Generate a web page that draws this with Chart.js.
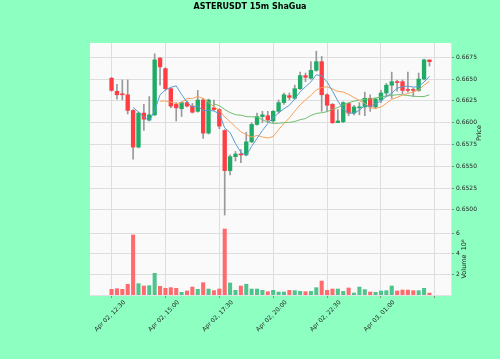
<!DOCTYPE html>
<html>
<head>
<meta charset="utf-8">
<script src="https://cdn.jsdelivr.net/npm/chart.js@4/dist/chart.umd.min.js"></script>
<style>
  html, body { margin: 0; padding: 0; background: #8dffc1; }
  #wrap { width: 500px; height: 359px; }
</style>
</head>
<body>
<div id="wrap"><canvas id="chart" width="500" height="359"></canvas></div>
<script>
// 15m candles, index 0 = Apr 02 12:30
const opens  = [0.6651, 0.6636, 0.66325, 0.6632, 0.6614, 0.6572, 0.6611, 0.6603, 0.6609, 0.6674,
                0.6662, 0.6639, 0.6621, 0.6616, 0.6623, 0.6619, 0.6613, 0.6626, 0.6588, 0.6617,
                0.6615, 0.6591, 0.6545, 0.6561, 0.6564, 0.6563, 0.6578, 0.6598, 0.6607, 0.6608,
                0.6602, 0.6613, 0.6623, 0.6631, 0.6628, 0.6639, 0.6654, 0.6651, 0.6660, 0.6670,
                0.6632, 0.6621, 0.6600, 0.6601, 0.6622, 0.6611, 0.6617, 0.6618, 0.6628, 0.6618,
                0.6626, 0.6634, 0.6643, 0.6647, 0.6647, 0.6638, 0.6638, 0.6637, 0.6650, 0.6672];
const highs  = [0.6652, 0.6644, 0.6649, 0.6649, 0.6615, 0.6612, 0.6621, 0.6630, 0.6679, 0.6675,
                0.6663, 0.6640, 0.6623, 0.6624, 0.6625, 0.6622, 0.6637, 0.6628, 0.6627, 0.6626,
                0.6616, 0.6592, 0.6563, 0.6567, 0.6569, 0.6589, 0.6600, 0.6611, 0.6613, 0.6613,
                0.6614, 0.6626, 0.6634, 0.6634, 0.6643, 0.6658, 0.6657, 0.6670, 0.6682, 0.6676,
                0.6633, 0.6622, 0.6615, 0.6624, 0.6623, 0.6620, 0.6623, 0.6635, 0.6632, 0.6628,
                0.6637, 0.6645, 0.6658, 0.6649, 0.6649, 0.6658, 0.6640, 0.6657, 0.6673, 0.6672];
const lows   = [0.6636, 0.6627, 0.6626, 0.6610, 0.6558, 0.6571, 0.6591, 0.6602, 0.6608, 0.6643,
                0.6637, 0.6617, 0.6602, 0.6607, 0.6618, 0.6611, 0.6612, 0.6582, 0.6587, 0.6614,
                0.6593, 0.6494, 0.6540, 0.6556, 0.6554, 0.6562, 0.6577, 0.6597, 0.6600, 0.6600,
                0.6600, 0.6611, 0.6621, 0.6626, 0.6627, 0.6638, 0.6647, 0.6650, 0.6659, 0.6613,
                0.6613, 0.6599, 0.6600, 0.6600, 0.6608, 0.6609, 0.6609, 0.6608, 0.6613, 0.6616,
                0.6623, 0.6630, 0.6628, 0.6636, 0.6633, 0.6635, 0.6630, 0.6636, 0.6649, 0.6665];
const closes = [0.6637, 0.6632, 0.6632, 0.6614, 0.6572, 0.6611, 0.6604, 0.6609, 0.6672, 0.6664,
                0.6639, 0.6619, 0.6617, 0.6623, 0.6619, 0.6612, 0.6626, 0.6588, 0.6626, 0.6615,
                0.6596, 0.6545, 0.6561, 0.6564, 0.6563, 0.6578, 0.6598, 0.6607, 0.6609, 0.6603,
                0.6613, 0.6623, 0.6632, 0.6629, 0.6639, 0.6654, 0.6652, 0.6660, 0.6670, 0.6632,
                0.6620, 0.6600, 0.6602, 0.6623, 0.6611, 0.6618, 0.6618, 0.6628, 0.6618, 0.6627,
                0.6634, 0.6643, 0.6647, 0.6646, 0.6637, 0.6637, 0.6637, 0.6650, 0.6672, 0.6670];
// volume in millions
const volumes = [0.55, 0.61, 0.55, 1.04, 5.81, 1.10, 0.87, 0.90, 2.10, 0.84,
                 0.65, 0.71, 0.65, 0.26, 0.39, 0.77, 0.55, 1.19, 0.58, 0.42,
                 0.58, 6.39, 1.16, 0.45, 0.87, 1.04, 0.58, 0.58, 0.45, 0.32,
                 0.45, 0.29, 0.29, 0.45, 0.42, 0.35, 0.32, 0.35, 0.71, 1.35,
                 0.45, 0.58, 0.58, 0.35, 0.68, 0.19, 0.77, 0.52, 0.29, 0.26,
                 0.39, 0.42, 0.87, 0.39, 0.48, 0.48, 0.42, 0.42, 0.65, 0.19];

const tickIndex  = [0, 10, 20, 30, 40, 50, 60];
const tickLabels = ['Apr 02, 12:30', 'Apr 02, 15:00', 'Apr 02, 17:30', 'Apr 02, 20:00',
                    'Apr 02, 22:30', 'Apr 03, 01:00', ''];
const priceTicks  = [0.6500, 0.6525, 0.6550, 0.6575, 0.6600, 0.6625, 0.6650, 0.6675];
const volumeTicks = [2, 4, 6];
const mavPeriods  = [5, 10, 20];
const mavColors   = ['#5b9bd5', '#f7a35c', '#70bf6e'];
const titleText   = 'ASTERUSDT 15m ShaGua';

const upColor = '#1fab66', downColor = '#ff3d43';
const volUp = '#4cc48c', volDown = '#ff6b6d';

const idx = opens.map((_, i) => i);
const isUp = idx.map(i => closes[i] >= opens[i]);

// simple moving average of closes, like mplfinance mav
function sma(period) {
    return idx.map(i => {
        if (i < period - 1) return { x: i, y: null };
        let s = 0;
        for (let k = i - period + 1; k <= i; k++) s += closes[k];
        return { x: i, y: s / period };
    });
}

// plot background, title and rotated axis labels
const panelPlugin = {
    id: 'panels',
    beforeDraw(chart) {
        const { ctx, chartArea } = chart;
        ctx.save();
        ctx.fillStyle = '#fafafa';
        ctx.fillRect(chartArea.left, chartArea.top, chartArea.width, chartArea.height);
        ctx.restore();
    },
    afterDraw(chart) {
        const ctx = chart.ctx;
        const y = chart.scales.y, yv = chart.scales.yv;
        ctx.save();
        ctx.font = 'bold 8px "DejaVu Sans"';
        ctx.fillStyle = '#000';
        ctx.textAlign = 'center';
        ctx.textBaseline = 'middle';
        ctx.fillText(titleText, 250, 7);
        ctx.restore();
        const side = (text, x, cy) => {
            ctx.save();
            ctx.translate(x, cy);
            ctx.rotate(-Math.PI / 2);
            ctx.font = '6.5px "DejaVu Sans"';
            ctx.fillStyle = '#222';
            ctx.textAlign = 'center';
            ctx.textBaseline = 'middle';
            ctx.fillText(text, 0, 0);
            ctx.restore();
        };
        side('Price', 479, (y.top + y.bottom) / 2);
        side('Volume  10\u2076', 464, (yv.top + yv.bottom) / 2);
    }
};

const tickFont = { family: 'DejaVu Sans', size: 6 };
const gridColor = '#dedede';

new Chart(document.getElementById('chart'), {
    type: 'bar',
    data: {
        datasets: [
            ...mavPeriods.map((p, k) => ({
                type: 'line',
                data: sma(p),
                yAxisID: 'y',
                borderColor: mavColors[k],
                borderWidth: 1,
                pointRadius: 0,
                order: 0
            })),
            {
                data: idx.map(i => ({ x: i, y: [opens[i], closes[i]] })),
                yAxisID: 'y',
                backgroundColor: isUp.map(u => u ? upColor : downColor),
                barThickness: 3.7,
                minBarLength: 1,
                grouped: false,
                order: 1
            },
            {
                data: idx.map(i => ({ x: i, y: [lows[i], highs[i]] })),
                yAxisID: 'y',
                backgroundColor: '#999999',
                barThickness: 1,
                grouped: false,
                order: 2
            },
            {
                data: idx.map(i => ({ x: i, y: volumes[i] })),
                yAxisID: 'yv',
                backgroundColor: isUp.map(u => u ? volUp : volDown),
                barThickness: 3.4,
                grouped: false,
                order: 3
            }
        ]
    },
    options: {
        responsive: false,
        animation: false,
        layout: { padding: { left: 90, right: 0, top: 43, bottom: 0 } },
        plugins: {
            legend: { display: false },
            tooltip: { enabled: false },
            title: { display: false }
        },
        scales: {
            x: {
                type: 'linear',
                offset: false,
                min: -4,
                max: 63,
                grid: { offset: false, color: gridColor, tickLength: 3, tickColor: '#888' },
                border: { color: '#e2e2e2' },
                afterBuildTicks: s => { s.ticks = tickIndex.map(v => ({ value: v })); },
                afterFit: s => { s.height = 64; },
                ticks: {
                    autoSkip: false,
                    maxRotation: 45,
                    minRotation: 45,
                    padding: 1,
                    labelOffset: 13,
                    color: '#222',
                    font: tickFont,
                    callback: v => tickLabels[tickIndex.indexOf(v)]
                }
            },
            y: {
                position: 'right',
                stack: 'panels',
                stackWeight: 5,
                min: 0.64849,
                max: 0.66914,
                grid: { color: gridColor, tickLength: 3, tickColor: '#888' },
                border: { color: '#e2e2e2' },
                afterBuildTicks: s => { s.ticks = priceTicks.map(v => ({ value: v })); },
                afterFit: s => { s.width = 49; },
                ticks: { color: '#222', font: tickFont, padding: 2, callback: v => v.toFixed(4) }
            },
            yv: {
                position: 'right',
                stack: 'panels',
                stackWeight: 2,
                min: 0,
                max: 6.97,
                grid: { color: gridColor, tickLength: 3, tickColor: '#888' },
                border: { color: '#e2e2e2' },
                afterBuildTicks: s => { s.ticks = volumeTicks.map(v => ({ value: v })); },
                afterFit: s => { s.width = 49; },
                ticks: { color: '#222', font: tickFont, padding: 2, callback: v => String(v) }
            }
        }
    },
    plugins: [panelPlugin]
});
</script>
</body>
</html>
